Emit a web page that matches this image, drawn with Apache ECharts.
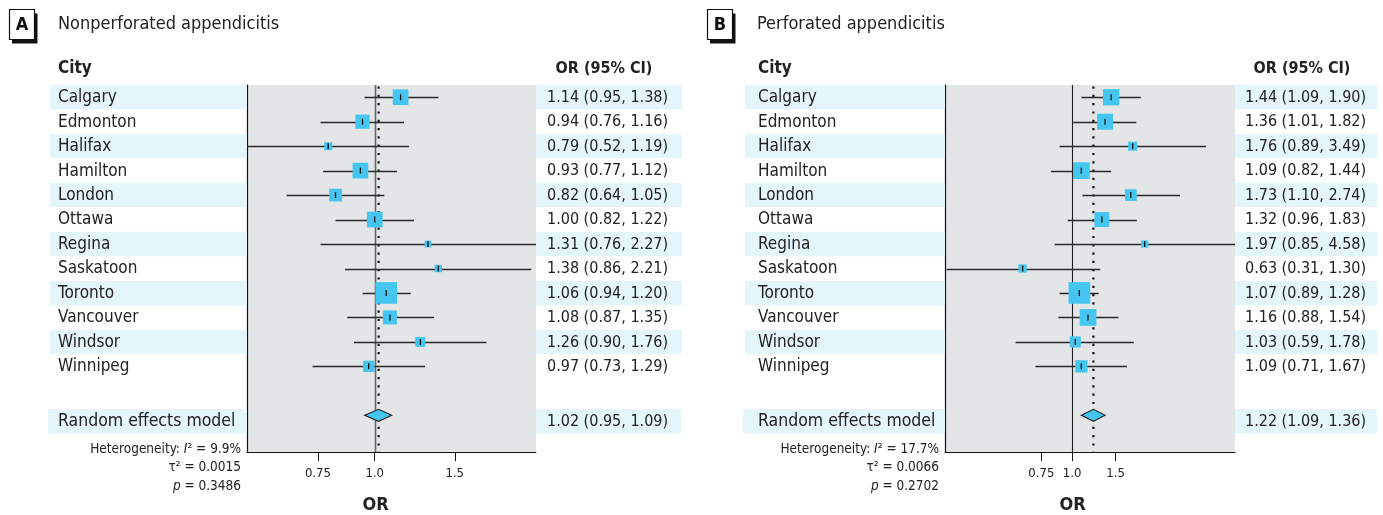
<!DOCTYPE html>
<html>
<head>
<meta charset="utf-8">
<script src="https://cdn.jsdelivr.net/npm/echarts@6/dist/echarts.min.js"></script>
<style>
html,body{margin:0;padding:0;background:#fff;}
#chart{width:1383px;height:515px;}
</style>
</head>
<body>
<div id="chart"></div>
<script>
// ---------------- DATA ----------------
const cities = ["Calgary","Edmonton","Halifax","Hamilton","London","Ottawa","Regina","Saskatoon","Toronto","Vancouver","Windsor","Winnipeg"];
// Panel A: Nonperforated appendicitis
const orA    = [1.14,0.94,0.79,0.93,0.82,1.00,1.31,1.38,1.06,1.08,1.26,0.97];
const lowA   = [0.95,0.76,0.52,0.77,0.64,0.82,0.76,0.86,0.94,0.87,0.90,0.73];
const highA  = [1.38,1.16,1.19,1.12,1.05,1.22,2.27,2.21,1.20,1.35,1.76,1.29];
const weightA= [11.4,9.4,3.0,11.4,7.5,11.4,2.1,2.5,21.8,9.1,4.6,5.9];
const pooledA= [1.02,0.95,1.09];
const hetA   = ["9.9%","0.0015","0.3486"];
// Panel B: Perforated appendicitis
const orB    = [1.44,1.36,1.76,1.09,1.73,1.32,1.97,0.63,1.07,1.16,1.03,1.09];
const lowB   = [1.09,1.01,0.89,0.82,1.10,0.96,0.85,0.31,0.89,0.88,0.59,0.71];
const highB  = [1.90,1.82,3.49,1.44,2.74,1.83,4.58,1.30,1.28,1.54,1.78,1.67];
const weightB= [11.1,10.7,3.4,11.7,5.7,9.4,2.2,2.9,19.7,11.7,5.1,6.3];
const pooledB= [1.22,1.09,1.36];
const hetB   = ["17.7%","0.0066","0.2702"];
// Axis ticks
const tickValues = [0.75,1.0,1.5];
const tickLabels = ["0.75","1.0","1.5"];
const panelLetters = ["A","B"];
const panelTitles = ["Nonperforated appendicitis","Perforated appendicitis"];
const pooledLabel = "Random effects model";
const colHeaders = ["City","OR (95% CI)"];
const axisName = "OR";

// ---------------- STYLE / LAYOUT ----------------
const FONT = '"Liberation Sans Narrow","Arial Narrow","DejaVu Sans Condensed",sans-serif';
const BLUE = '#45c6f0';
const BAND = '#e5f5fc';
const GRAY = '#e4e5e7';
const MAXSIDE = 21.7;
const ROW_RE = 13;

const layouts = [
  {gl:247, gw:289, xmin:-0.647, xmax:0.817, textX:58, bandL:50, bandR:682, reBandL:48, reBandR:681, valX:547, hdrX:604, hetR:241, boxX:9, titleX:58, refColor:'#666', refW:1.6},
  {gl:945, gw:290, xmin:-1.187, xmax:1.521, textX:758, bandL:745, bandR:1377, reBandL:743, reBandR:1377, valX:1245, hdrX:1302, hetR:939, boxX:707, titleX:757, refColor:'#222', refW:1.1}
];
const panels = [
  {or:orA, low:lowA, high:highA, w:weightA, pooled:pooledA, het:hetA},
  {or:orB, low:lowB, high:highB, w:weightB, pooled:pooledB, het:hetB}
];
const GT = 85, GH = 367;

const fmt = v => v.toFixed(2);
const ciText = (o,l,h) => fmt(o) + ' (' + fmt(l) + ', ' + fmt(h) + ')';

const grids=[], xAxes=[], yAxes=[], series=[], graphics=[];

panels.forEach((P, k) => {
  const L = layouts[k];
  grids.push({left:L.gl, top:GT, width:L.gw, height:GH, show:true, backgroundColor:GRAY, borderWidth:0});
  const tickLn = tickValues.map(v => Math.log(v));
  xAxes.push({
    type:'value', gridIndex:k, min:L.xmin, max:L.xmax,
    splitLine:{show:false},
    axisLine:{show:true, onZero:false, lineStyle:{color:'#111', width:1}},
    axisTick:{show:true, customValues:tickLn, length:9, lineStyle:{color:'#111', width:1}},
    axisLabel:{show:true, customValues:tickLn, margin:15, color:'#222', fontFamily:FONT, fontSize:13,
      formatter: v => { let bi=0,bd=1e9; tickLn.forEach((t,i)=>{const d=Math.abs(t-v); if(d<bd){bd=d;bi=i;}}); return tickLabels[bi]; }}
  });
  yAxes.push({
    type:'value', gridIndex:k, min:-0.5, max:14.5, inverse:true,
    splitLine:{show:false}, axisTick:{show:false}, axisLabel:{show:false},
    axisLine:{show:true, onZero:false, lineStyle:{color:'#111', width:1.2}}
  });

  const gR = L.gl + L.gw;
  // text + bands
  const rows = cities.map((c,i)=>[0,i,i]).concat([[0,ROW_RE,12]]);
  series.push({
    type:'custom', xAxisIndex:k, yAxisIndex:k, z:1, silent:true,
    data: rows,
    renderItem: (params, api) => {
      const idx = api.value(2), row = api.value(1);
      let y = api.coord([0,row])[1];
      const isRE = idx === 12;
      if (isRE) y += 5.8;
      const children = [];
      const shaded = isRE || idx % 2 === 0;
      const bl = isRE ? L.reBandL : L.bandL, br = isRE ? L.reBandR : L.bandR;
      if (shaded) {
        children.push({type:'rect', shape:{x:bl, y:y-12.2, width:L.gl-bl, height:24.4}, style:{fill:BAND}});
        children.push({type:'rect', shape:{x:gR, y:y-12.2, width:br-gR, height:24.4}, style:{fill:BAND}});
      }
      const name = isRE ? pooledLabel : cities[idx];
      const val = isRE ? ciText(P.pooled[0],P.pooled[1],P.pooled[2]) : ciText(P.or[idx],P.low[idx],P.high[idx]);
      children.push({type:'text', style:{x:L.textX, y:y+0.5, text:name, fill:'#222', font:(isRE?'17.5px ':'17px ')+FONT, align:'left', verticalAlign:'middle'}});
      children.push({type:'text', style:{x:L.valX, y:y+0.5, text:val, fill:'#222', font:'16px '+FONT, align:'left', verticalAlign:'middle'}});
      return {type:'group', children};
    }
  });
  // reference lines (null line and pooled dotted line) + axis name
  series.push({
    type:'custom', xAxisIndex:k, yAxisIndex:k, z:2, silent:true,
    data:[[0, Math.log(P.pooled[0])]],
    renderItem: (params, api) => {
      const cs = params.coordSys;
      const x0 = Math.round(api.coord([api.value(0),0])[0]) + 0.5;
      const xp = api.coord([api.value(1),0])[0];
      return {type:'group', children:[
        {type:'line', shape:{x1:x0, y1:cs.y, x2:x0, y2:cs.y+cs.height}, style:{stroke:L.refColor, lineWidth:L.refW}},
        {type:'line', shape:{x1:xp, y1:cs.y+1.5, x2:xp, y2:cs.y+cs.height}, style:{stroke:'#111', lineWidth:2.2, lineDash:[2.2,6.1]}},
        {type:'text', style:{x:x0, y:cs.y+cs.height+53, text:axisName, fill:'#222', font:'bold 18px '+FONT, align:'center', verticalAlign:'middle'}}
      ]};
    }
  });
  // CI lines
  series.push({
    type:'custom', xAxisIndex:k, yAxisIndex:k, z:3, silent:true, clip:true,
    data: cities.map((c,i)=>[Math.log(P.low[i]), Math.log(P.high[i]), i]),
    renderItem: (params, api) => {
      const cs = params.coordSys;
      const r = api.value(2);
      let a = api.coord([api.value(0), r]), b = api.coord([api.value(1), r]);
      const x1 = Math.max(cs.x, a[0]), x2 = Math.min(cs.x+cs.width, b[0]);
      const y = Math.round(a[1]) + 0.5;
      return {type:'line', shape:{x1, y1:y, x2, y2:y}, style:{stroke:'#2a2a2a', lineWidth:1.3}};
    }
  });
  // weighted squares
  const wmax = Math.max.apply(null, P.w);
  series.push({
    type:'custom', xAxisIndex:k, yAxisIndex:k, z:4, silent:true,
    data: cities.map((c,i)=>[Math.log(P.or[i]), i, P.w[i]]),
    renderItem: (params, api) => {
      const p = api.coord([api.value(0), api.value(1)]);
      const s = MAXSIDE * Math.sqrt(api.value(2)/wmax);
      return {type:'group', children:[
        {type:'rect', shape:{x:p[0]-s/2, y:p[1]-s/2, width:s, height:s}, style:{fill:BLUE}},
        {type:'line', shape:{x1:p[0], y1:p[1]-3, x2:p[0], y2:p[1]+3}, style:{stroke:'#111', lineWidth:1.3}}
      ]};
    }
  });
  // pooled diamond
  series.push({
    type:'custom', xAxisIndex:k, yAxisIndex:k, z:5, silent:true,
    data: [[Math.log(P.pooled[0]), Math.log(P.pooled[1]), Math.log(P.pooled[2]), ROW_RE]],
    renderItem: (params, api) => {
      const r = api.value(3);
      const c = api.coord([api.value(0), r]), l = api.coord([api.value(1), r]), h = api.coord([api.value(2), r]);
      const hh = 6;
      return {type:'polygon', shape:{points:[[l[0],c[1]],[c[0],c[1]-hh],[h[0],c[1]],[c[0],c[1]+hh]]},
        style:{fill:BLUE, stroke:'#222', lineWidth:1.1}};
    }
  });

  // static annotations: panel letter box, title, column headers, heterogeneity
  graphics.push({type:'rect', shape:{x:L.boxX+3, y:13.5, width:25.5, height:30}, style:{fill:'#111'}, z:10});
  graphics.push({type:'rect', shape:{x:L.boxX+0.5, y:9.5, width:25, height:30}, style:{fill:'#fff', stroke:'#111', lineWidth:1.2}, z:11});
  graphics.push({type:'text', style:{x:L.boxX+13, y:25, text:panelLetters[k], fill:'#111', font:'bold 18px '+FONT, align:'center', verticalAlign:'middle'}, z:12});
  graphics.push({type:'text', style:{x:L.titleX, y:24, text:panelTitles[k], fill:'#222', font:'18px '+FONT, align:'left', verticalAlign:'middle'}, z:12});
  graphics.push({type:'text', style:{x:L.textX, y:69, text:colHeaders[0], fill:'#222', font:'bold 17px '+FONT, align:'left', verticalAlign:'middle'}, z:12});
  graphics.push({type:'text', style:{x:L.hdrX, y:69, text:colHeaders[1], fill:'#222', font:'bold 16px '+FONT, align:'center', verticalAlign:'middle'}, z:12});
  const rich = {n:{fontFamily:FONT, fontSize:13.5, color:'#222'}, i:{fontFamily:FONT, fontSize:13.5, fontStyle:'italic', color:'#222'}};
  graphics.push({type:'text', style:{x:L.hetR, y:449, text:'{n|Heterogeneity: }{i|I}{n|\u00b2 = ' + P.het[0] + '}', rich, align:'right', verticalAlign:'middle', fill:'#222'}, z:12});
  graphics.push({type:'text', style:{x:L.hetR, y:467, text:'{n|\u03c4\u00b2 = ' + P.het[1] + '}', rich, align:'right', verticalAlign:'middle', fill:'#222'}, z:12});
  graphics.push({type:'text', style:{x:L.hetR, y:486, text:'{i|p}{n| = ' + P.het[2] + '}', rich, align:'right', verticalAlign:'middle', fill:'#222'}, z:12});
});

const chart = echarts.init(document.getElementById('chart'), null, {renderer:'canvas'});
chart.setOption({
  animation:false,
  backgroundColor:'#fff',
  grid:grids, xAxis:xAxes, yAxis:yAxes, series, graphic:graphics
});
</script>
</body>
</html>
